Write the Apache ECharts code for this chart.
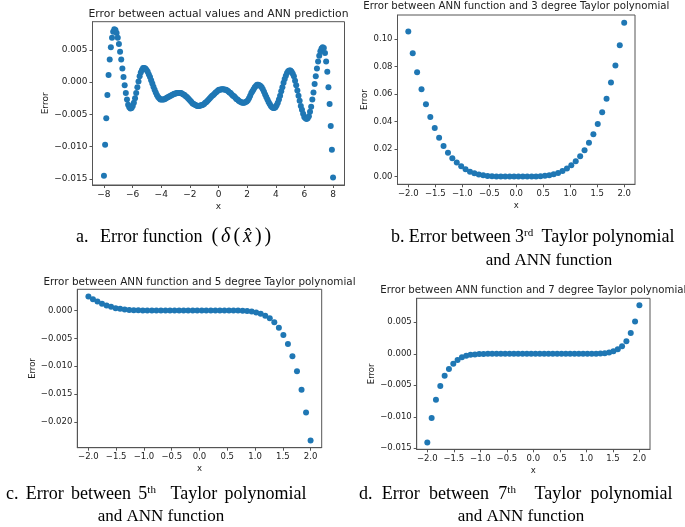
<!DOCTYPE html>
<html><head><meta charset="utf-8">
<script src="https://cdn.jsdelivr.net/npm/echarts@6/dist/echarts.min.js"></script>
<style>html,body{margin:0;padding:0;background:#fff}#c{width:685px;height:527px}</style>
</head><body><div id="c"></div>
<script>
// ---- data ----
const xANN = [-8.000,-7.920,-7.839,-7.759,-7.678,-7.598,-7.518,-7.437,-7.357,-7.276,-7.196,-7.116,-7.035,-6.955,-6.874,-6.794,-6.714,-6.633,-6.553,-6.472,-6.392,-6.312,-6.231,-6.151,-6.070,-5.990,-5.910,-5.829,-5.749,-5.668,-5.588,-5.508,-5.427,-5.347,-5.266,-5.186,-5.106,-5.025,-4.945,-4.864,-4.784,-4.704,-4.623,-4.543,-4.462,-4.382,-4.302,-4.221,-4.141,-4.060,-3.980,-3.899,-3.819,-3.739,-3.658,-3.578,-3.497,-3.417,-3.337,-3.256,-3.176,-3.095,-3.015,-2.935,-2.854,-2.774,-2.693,-2.613,-2.533,-2.452,-2.372,-2.291,-2.211,-2.131,-2.050,-1.970,-1.889,-1.809,-1.729,-1.648,-1.568,-1.487,-1.407,-1.327,-1.246,-1.166,-1.085,-1.005,-0.925,-0.844,-0.764,-0.683,-0.603,-0.523,-0.442,-0.362,-0.281,-0.201,-0.121,-0.040,0.040,0.121,0.201,0.281,0.362,0.442,0.523,0.603,0.683,0.764,0.844,0.925,1.005,1.085,1.166,1.246,1.327,1.407,1.487,1.568,1.648,1.729,1.809,1.889,1.970,2.050,2.131,2.211,2.291,2.372,2.452,2.533,2.613,2.693,2.774,2.854,2.935,3.015,3.095,3.176,3.256,3.337,3.417,3.497,3.578,3.658,3.739,3.819,3.899,3.980,4.060,4.141,4.221,4.302,4.382,4.462,4.543,4.623,4.704,4.784,4.864,4.945,5.025,5.106,5.186,5.266,5.347,5.427,5.508,5.588,5.668,5.749,5.829,5.910,5.990,6.070,6.151,6.231,6.312,6.392,6.472,6.553,6.633,6.714,6.794,6.874,6.955,7.035,7.116,7.196,7.276,7.357,7.437,7.518,7.598,7.678,7.759,7.839,7.920,8.000];
const errANN = [-0.0145,-0.0097,-0.0056,-0.0020,0.0011,0.0035,0.0054,0.0069,0.0078,0.0082,0.0081,0.0076,0.0069,0.0059,0.0047,0.0035,0.0021,0.0008,-0.0005,-0.0017,-0.0027,-0.0035,-0.0039,-0.0041,-0.0040,-0.0037,-0.0032,-0.0025,-0.0017,-0.0008,0.0001,0.0009,0.0015,0.0019,0.0022,0.0022,0.0021,0.0019,0.0016,0.0012,0.0008,0.0003,-0.0002,-0.0007,-0.0012,-0.0016,-0.0020,-0.0023,-0.0025,-0.0027,-0.0027,-0.0027,-0.0027,-0.0026,-0.0025,-0.0024,-0.0023,-0.0022,-0.0021,-0.0020,-0.0019,-0.0018,-0.0018,-0.0017,-0.0017,-0.0017,-0.0017,-0.0017,-0.0018,-0.0019,-0.0020,-0.0022,-0.0023,-0.0025,-0.0027,-0.0029,-0.0031,-0.0033,-0.0034,-0.0035,-0.0036,-0.0037,-0.0037,-0.0037,-0.0036,-0.0036,-0.0035,-0.0034,-0.0032,-0.0031,-0.0029,-0.0027,-0.0025,-0.0023,-0.0021,-0.0020,-0.0018,-0.0016,-0.0015,-0.0013,-0.0012,-0.0012,-0.0011,-0.0011,-0.0011,-0.0012,-0.0012,-0.0013,-0.0014,-0.0016,-0.0017,-0.0019,-0.0021,-0.0022,-0.0024,-0.0026,-0.0027,-0.0029,-0.0030,-0.0031,-0.0032,-0.0032,-0.0032,-0.0031,-0.0030,-0.0028,-0.0025,-0.0021,-0.0017,-0.0014,-0.0011,-0.0008,-0.0006,-0.0004,-0.0004,-0.0005,-0.0006,-0.0008,-0.0011,-0.0015,-0.0019,-0.0023,-0.0027,-0.0031,-0.0034,-0.0037,-0.0039,-0.0040,-0.0040,-0.0039,-0.0036,-0.0032,-0.0027,-0.0021,-0.0014,-0.0008,-0.0001,0.0005,0.0010,0.0014,0.0017,0.0018,0.0018,0.0016,0.0013,0.0009,0.0002,-0.0005,-0.0013,-0.0021,-0.0029,-0.0037,-0.0043,-0.0049,-0.0054,-0.0056,-0.0057,-0.0056,-0.0053,-0.0046,-0.0038,-0.0027,-0.0016,-0.0003,0.0009,0.0021,0.0032,0.0041,0.0048,0.0052,0.0054,0.0053,0.0045,0.0032,0.0016,-0.0008,-0.0034,-0.0068,-0.0105,-0.0148];

const xTaylor = [-2.000,-1.918,-1.837,-1.755,-1.673,-1.592,-1.510,-1.429,-1.347,-1.265,-1.184,-1.102,-1.020,-0.939,-0.857,-0.776,-0.694,-0.612,-0.531,-0.449,-0.367,-0.286,-0.204,-0.122,-0.041,0.041,0.122,0.204,0.286,0.367,0.449,0.531,0.612,0.694,0.776,0.857,0.939,1.020,1.102,1.184,1.265,1.347,1.429,1.510,1.592,1.673,1.755,1.837,1.918,2.000];
const err3 = [0.1055,0.0896,0.0758,0.0634,0.0525,0.0433,0.0353,0.0283,0.0223,0.0174,0.0133,0.0102,0.0075,0.0053,0.0036,0.0024,0.0015,0.0009,0.0005,0.0003,0.0001,0.00005,0.00002,0,0,0,0,0.00002,0.00006,0.00015,0.0003,0.0006,0.0010,0.0017,0.0027,0.0041,0.0058,0.0082,0.0111,0.0147,0.0191,0.0245,0.0307,0.0383,0.0467,0.0566,0.0683,0.0808,0.0954,0.1118];
const err5 = [0.0025,0.0020,0.0016,0.0012,0.0009,0.00066,0.0004,0.0003,0.0002,0.0001,0.00006,0.00003,0.00001,0,0,0,0,0,0,0,0,0,0,0,0,0,0,0,0,0,0,0,0,-0.00002,-0.00005,-0.0001,-0.0002,-0.00036,-0.0006,-0.00096,-0.0014,-0.0021,-0.0031,-0.0044,-0.0060,-0.0082,-0.0109,-0.0142,-0.0183,-0.0233];
const err7 = [-0.01407,-0.0102,-0.0073,-0.0051,-0.0035,-0.0024,-0.0016,-0.0010,-0.00057,-0.0003,-0.00016,-0.0001,-0.00005,-0.00002,0,0,0,0,0,0,0,0,0,0,0,0,0,0,0,0,0,0,0,0,0,0,0,0,0,0.00002,0.00005,0.0001,0.0002,0.0004,0.0007,0.0012,0.0020,0.0033,0.0051,0.0077];

const ticksAX = [-8,-6,-4,-2,0,2,4,6,8];
const ticksAY = [-0.015,-0.010,-0.005,0,0.005];
const ticksTX = [-2,-1.5,-1,-0.5,0,0.5,1,1.5,2];
const ticksBY = [0,0.02,0.04,0.06,0.08,0.10];
const ticksCY = [-0.020,-0.015,-0.010,-0.005,0];
const ticksDY = [-0.015,-0.010,-0.005,0,0.005];

const titles = ['Error between actual values and ANN prediction',
  'Error between ANN function and 3 degree Taylor polynomial',
  'Error between ANN function and 5 degree Taylor polynomial',
  'Error between ANN function and 7 degree Taylor polynomial'];

// ---- chart ----
const FONT = 'DejaVu Sans';
const MINUS = '\u2212';
const fmt = d => v => (v < -1e-12 ? MINUS : '') + Math.abs(v).toFixed(d);
const frame = '#555';

const grids = [
  {left: 92.5, top: 21.7, width: 252, height: 163.3},
  {left: 397.5, top: 15, width: 237.5, height: 169.3},
  {left: 77.3, top: 289.3, width: 244.4, height: 158.4},
  {left: 416.7, top: 298.3, width: 233.3, height: 151}
].map(g => Object.assign({show: true, borderColor: frame, borderWidth: 1, backgroundColor: 'transparent', containLabel: false, outerBoundsMode: 'none'}, g));

function xAx(i, min, max, ticks, dec, fs) {
  return {gridIndex: i, type: 'value', min, max, name: 'x', nameLocation: 'middle', nameGap: 17,
    nameTextStyle: {fontFamily: FONT, fontSize: fs, color: '#222'},
    axisLine: {show: true, onZero: false, lineStyle: {color: frame, width: 1}},
    axisTick: {show: true, length: 3, customValues: ticks, lineStyle: {color: frame}},
    axisLabel: {customValues: ticks, formatter: fmt(dec), fontFamily: FONT, fontSize: fs, color: '#222', margin: 5},
    splitLine: {show: false}};
}
function yAx(i, min, max, ticks, dec, gap, fs) {
  return {gridIndex: i, type: 'value', min, max, name: 'Error', nameLocation: 'middle', nameGap: gap,
    nameTextStyle: {fontFamily: FONT, fontSize: fs, color: '#222'},
    axisLine: {show: true, onZero: false, lineStyle: {color: frame, width: 1}},
    axisTick: {show: true, length: 3, customValues: ticks, lineStyle: {color: frame}},
    axisLabel: {customValues: ticks, formatter: fmt(dec), fontFamily: FONT, fontSize: fs, color: '#222', margin: 5},
    splitLine: {show: false}};
}
const pairs = (xs, ys) => xs.map((x, i) => [x, ys[i]]);
const ser = (i, d) => ({type: 'scatter', xAxisIndex: i, yAxisIndex: i, data: d, symbolSize: 6,
  itemStyle: {color: '#1f77b4', opacity: 1}, silent: true});

function titleText(t, x, y, fs) {
  return {type: 'text', x, y, style: {text: t, textAlign: 'center', textVerticalAlign: 'middle',
    font: fs + 'px "' + FONT + '"', fill: '#222'}};
}
const serif = '"Liberation Serif", "Times New Roman", serif';
function richFor(gap) {
  return {
    n: {fontFamily: serif, fontSize: 18, color: '#000'},
    m: {fontFamily: serif, fontSize: 17, color: '#000'},
    i: {fontFamily: serif, fontSize: 20, fontStyle: 'italic', color: '#000'},
    p: {fontFamily: serif, fontSize: 20, color: '#000'},
    s: {fontFamily: serif, fontSize: 11, color: '#000', verticalAlign: 'top'},
    g: {width: gap, fontSize: 18},
    g2: {width: gap * 2, fontSize: 18},
    k: {width: 3, fontSize: 18}
  };
}
function cap(text, x, y, align, gap) {
  return {type: 'text', x, y, style: {text, rich: richFor(gap || 4.5), textAlign: align || 'left', textVerticalAlign: 'middle', fill: '#000', font: '18px ' + serif}};
}
function line1(letter, deg, sup, x, y, gap) {
  const t = '{n|' + letter + '}{g| }{n|Error}{g| }{n|between}{g| }{n|' + deg + '}{s|' + sup + '}{g2| }{n|Taylor}{g| }{n|polynomial}';
  return cap(t, x, y, 'left', gap);
}

const chart = echarts.init(document.getElementById('c'), null, {renderer: 'canvas'});
chart.setOption({
  animation: false,
  backgroundColor: '#fff',
  grid: grids,
  xAxis: [xAx(0, -8.8, 8.8, ticksAX, 0, 9), xAx(1, -2.2, 2.2, ticksTX, 1, 8.5), xAx(2, -2.2, 2.2, ticksTX, 1, 8.5), xAx(3, -2.2, 2.2, ticksTX, 1, 8.5)],
  yAxis: [yAx(0, -0.01595, 0.00937, ticksAY, 3, 41, 9), yAx(1, -0.0056, 0.1174, ticksBY, 2, 23, 8.5),
          yAx(2, -0.0246, 0.0038, ticksCY, 3, 38, 8.5), yAx(3, -0.01516, 0.0088, ticksDY, 3, 34, 8.5)],
  series: [ser(0, pairs(xANN, errANN)), ser(1, pairs(xTaylor, err3)), ser(2, pairs(xTaylor, err5)), ser(3, pairs(xTaylor, err7))],
  graphic: [
    titleText(titles[0], 218.5, 14, 10.8), titleText(titles[1], 516.3, 6.7, 10.2),
    titleText(titles[2], 199.5, 282.3, 10.4), titleText(titles[3], 533.3, 290.7, 10.2),
    cap('{n|a.}', 76, 237),
    cap('{n|Error function}{g| }{g| }{p|(}{k| }{i|\u03b4}{k| }{p|(}{k| }{i|x\u0302}{k| }{p|)}{k| }{p|)}', 100, 237, 'left', 4.5),
    line1('b.', '3', 'rd', 391, 237, 4.2),
    cap('{m|and ANN function}', 549, 261, 'center'),
    line1('c.', '5', 'th', 6, 494, 7.3),
    cap('{m|and ANN function}', 161, 517, 'center'),
    line1('d.', '7', 'th', 359, 494, 9.3),
    cap('{m|and ANN function}', 521, 517, 'center')
  ]
});
</script></body></html>
